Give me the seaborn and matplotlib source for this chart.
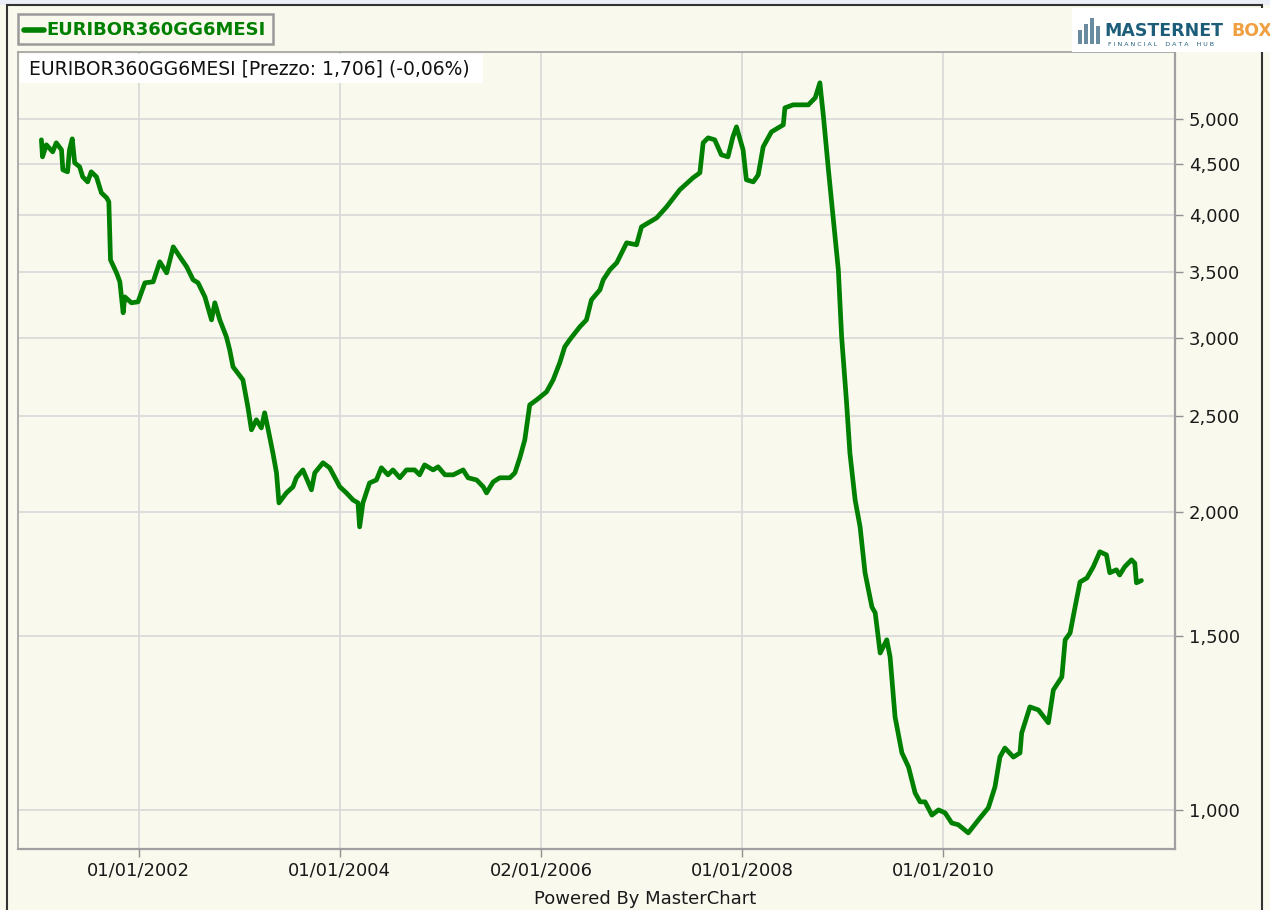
import matplotlib
matplotlib.use("Agg")
import matplotlib.pyplot as plt
import matplotlib.dates as mdates
from matplotlib.patches import Rectangle
from matplotlib.lines import Line2D
from matplotlib.ticker import FixedLocator, FuncFormatter, NullLocator
import pandas as pd
import seaborn as sns

# EURIBOR 360gg 6 mesi
dates = [
    "2001-01-12", "2001-01-16", "2001-01-30", "2001-02-22", "2001-03-07", "2001-03-26",
    "2001-03-31", "2001-04-17", "2001-04-24", "2001-05-04", "2001-05-13", "2001-05-31",
    "2001-06-11", "2001-06-29", "2001-07-12", "2001-07-31", "2001-08-18", "2001-09-06",
    "2001-09-14", "2001-09-20", "2001-10-12", "2001-10-24", "2001-11-05", "2001-11-11",
    "2001-12-05", "2001-12-29", "2002-01-23", "2002-02-22", "2002-03-18", "2002-04-12",
    "2002-05-06", "2002-05-30", "2002-06-24", "2002-07-17", "2002-08-04", "2002-08-29",
    "2002-09-22", "2002-10-04", "2002-10-22", "2002-11-15", "2002-11-27", "2002-12-09",
    "2003-01-14", "2003-02-01", "2003-02-14", "2003-03-04", "2003-03-22", "2003-04-03",
    "2003-04-16", "2003-05-03", "2003-05-16", "2003-05-25", "2003-06-21", "2003-07-15",
    "2003-07-27", "2003-08-20", "2003-09-20", "2003-10-02", "2003-11-01", "2003-11-25",
    "2004-01-01", "2004-01-25", "2004-02-18", "2004-03-07", "2004-03-13", "2004-03-25",
    "2004-04-18", "2004-05-13", "2004-05-31", "2004-06-24", "2004-07-12", "2004-08-06",
    "2004-08-30", "2004-09-29", "2004-10-17", "2004-11-04", "2004-12-05", "2004-12-23",
    "2005-01-17", "2005-02-16", "2005-03-24", "2005-04-11", "2005-05-12", "2005-06-05",
    "2005-06-17", "2005-07-11", "2005-08-04", "2005-09-10", "2005-09-28", "2005-10-16",
    "2005-11-03", "2005-11-21", "2005-12-16", "2006-01-21", "2006-02-14", "2006-03-10",
    "2006-03-28", "2006-04-15", "2006-05-22", "2006-06-15", "2006-07-03", "2006-08-03",
    "2006-08-15", "2006-09-08", "2006-10-03", "2006-11-08", "2006-12-14", "2007-01-01",
    "2007-02-25", "2007-04-02", "2007-05-20", "2007-07-07", "2007-08-01", "2007-08-13",
    "2007-08-31", "2007-09-24", "2007-10-18", "2007-11-11", "2007-11-29", "2007-12-12",
    "2008-01-05", "2008-01-17", "2008-02-11", "2008-02-29", "2008-03-18", "2008-04-17",
    "2008-05-30", "2008-06-05", "2008-07-05", "2008-08-29", "2008-09-23", "2008-10-10",
    "2008-10-23", "2008-11-10", "2008-11-28", "2008-12-16", "2008-12-28", "2009-01-15",
    "2009-01-27", "2009-02-15", "2009-03-05", "2009-03-23", "2009-04-17", "2009-04-29",
    "2009-05-17", "2009-06-10", "2009-06-22", "2009-07-10", "2009-08-04", "2009-08-28",
    "2009-09-21", "2009-10-09", "2009-10-27", "2009-11-21", "2009-12-15", "2010-01-08",
    "2010-02-01", "2010-02-25", "2010-04-02", "2010-05-09", "2010-06-14", "2010-07-08",
    "2010-07-26", "2010-08-13", "2010-09-13", "2010-10-07", "2010-10-13", "2010-11-12",
    "2010-12-13", "2011-01-18", "2011-02-05", "2011-03-08", "2011-03-20", "2011-04-07",
    "2011-04-25", "2011-05-13", "2011-06-07", "2011-06-30", "2011-07-24", "2011-08-17",
    "2011-08-29", "2011-09-22", "2011-10-04", "2011-10-22", "2011-11-16", "2011-11-28",
    "2011-12-04", "2011-12-22",
]
values = [
    4.760, 4.575, 4.705, 4.629, 4.727, 4.650,
    4.439, 4.418, 4.650, 4.771, 4.512, 4.470,
    4.367, 4.316, 4.418, 4.367, 4.207, 4.159,
    4.120, 3.599, 3.492, 3.420, 3.182, 3.302,
    3.257, 3.264, 3.412, 3.420, 3.583, 3.492,
    3.710, 3.625, 3.541, 3.436, 3.412, 3.302,
    3.130, 3.257, 3.130, 3.009, 2.919, 2.806,
    2.722, 2.556, 2.423, 2.480, 2.434, 2.521,
    2.423, 2.296, 2.192, 2.044, 2.092, 2.122,
    2.167, 2.207, 2.107, 2.192, 2.244, 2.218,
    2.122, 2.092, 2.058, 2.044, 1.933, 2.044,
    2.141, 2.156, 2.218, 2.182, 2.207, 2.167,
    2.207, 2.207, 2.182, 2.233, 2.207, 2.223,
    2.182, 2.182, 2.207, 2.167, 2.156, 2.122,
    2.092, 2.146, 2.167, 2.167, 2.192, 2.270,
    2.367, 2.568, 2.598, 2.647, 2.722, 2.832,
    2.939, 2.988, 3.080, 3.130, 3.279, 3.357,
    3.436, 3.517, 3.575, 3.745, 3.728, 3.887,
    3.969, 4.072, 4.237, 4.357, 4.408, 4.727,
    4.782, 4.760, 4.597, 4.575, 4.793, 4.906,
    4.650, 4.337, 4.316, 4.387, 4.683, 4.849,
    4.929, 5.128, 5.164, 5.164, 5.249, 5.436,
    5.022, 4.439, 3.951, 3.517, 3.009, 2.580,
    2.296, 2.058, 1.933, 1.737, 1.604, 1.582,
    1.441, 1.486, 1.428, 1.242, 1.142, 1.105,
    1.040, 1.019, 1.019, 0.988, 1.000, 0.993,
    0.970, 0.966, 0.948, 0.977, 1.005, 1.055,
    1.131, 1.155, 1.131, 1.142, 1.196, 1.271,
    1.262, 1.225, 1.322, 1.363, 1.486, 1.510,
    1.604, 1.700, 1.716, 1.761, 1.824, 1.811,
    1.737, 1.749, 1.728, 1.761, 1.790, 1.776,
    1.697, 1.706,
]

y_ticks = [1.0, 1.5, 2.0, 2.5, 3.0, 3.5, 4.0, 4.5, 5.0]
x_ticks = ["2002-01-01", "2004-01-01", "2006-01-02", "2008-01-01", "2010-01-01"]
series_name = "EURIBOR360GG6MESI"
header = "EURIBOR360GG6MESI [Prezzo: 1,706] (-0,06%)"

bg = "#f9f9ee"
green = "#008000"

df = pd.DataFrame({"date": pd.to_datetime(dates), "value": values})

sns.set_style("white")
plt.rcParams["font.family"] = ["DejaVu Sans"]

W, H = 1270, 910
fig = plt.figure(figsize=(W / 100, H / 100), dpi=100, facecolor=bg)

def fx(px):
    return px / W

def fy(py):
    return 1 - py / H

# outer frame and top strip
fig.patches.append(Rectangle((0, fy(5)), 1, 5 / H, transform=fig.transFigure,
                             facecolor="#eceff7", edgecolor="none", zorder=0))
fig.patches.append(Rectangle((fx(7), -0.01), fx(1262) - fx(7), fy(5) + 0.01,
                             transform=fig.transFigure, facecolor="none",
                             edgecolor="#333333", linewidth=1.5, zorder=1))

ax = fig.add_axes([fx(18), fy(849), fx(1175) - fx(18), (849 - 52) / H])
ax.set_facecolor(bg)

sns.lineplot(data=df, x="date", y="value", ax=ax, color=green, linewidth=3.4,
             estimator=None, sort=True, solid_joinstyle="round", solid_capstyle="round")

ax.set_yscale("log")
ax.set_ylim(0.913, 5.84)
ax.set_xlim(pd.Timestamp("2000-10-19"), pd.Timestamp("2012-04-22"))

ax.yaxis.set_major_locator(FixedLocator(y_ticks))
ax.yaxis.set_minor_locator(NullLocator())
ax.yaxis.set_major_formatter(FuncFormatter(lambda v, p: f"{v:.3f}".replace(".", ",")))
ax.yaxis.tick_right()

ax.xaxis.set_major_locator(FixedLocator(mdates.date2num(pd.to_datetime(x_ticks))))
ax.xaxis.set_major_formatter(mdates.DateFormatter("%d/%m/%Y"))

ax.grid(True, color="#dadada", linewidth=1.3)
ax.set_axisbelow(True)
ax.tick_params(axis="both", which="major", direction="out", length=6, width=1,
               color="#909090", labelsize=13, labelcolor="#1a1a1a", pad=4)
ax.tick_params(axis="y", right=True, left=False, pad=4)
ax.tick_params(axis="x", bottom=True, pad=3)
ax.set_xlabel("")
ax.set_ylabel("")
for side, sp in ax.spines.items():
    sp.set_visible(True)
    sp.set_color("#a0a0a0")
    sp.set_linewidth(1.6 if side in ("bottom", "right") else 1.2)

# header box inside plot
fig.patches.append(Rectangle((fx(20), fy(83)), fx(483) - fx(20), 29 / H,
                             transform=fig.transFigure, facecolor="white",
                             edgecolor="none", zorder=5))
fig.text(fx(29), fy(69), header, fontsize=13.5, color="#111111", va="center",
         ha="left", zorder=6)

# legend box
fig.patches.append(Rectangle((fx(18), fy(44)), fx(273) - fx(18), 30 / H,
                             transform=fig.transFigure, facecolor=bg,
                             edgecolor="#9a9a9a", linewidth=1.8, zorder=5))
fig.lines.append(Line2D([fx(24), fx(44)], [fy(30), fy(30)], transform=fig.transFigure,
                        color=green, linewidth=4, zorder=6))
fig.text(fx(46), fy(30), series_name, fontsize=13, fontweight="bold", color=green,
         va="center", ha="left", zorder=6)

# logo
fig.patches.append(Rectangle((fx(1072), fy(52)), fx(1270) - fx(1072), 44 / H,
                             transform=fig.transFigure, facecolor="white",
                             edgecolor="none", zorder=5))
fig.text(fx(1104), fy(31), "MASTERNET", fontsize=12.5, fontweight="bold",
         color="#1d5d7a", va="center", ha="left", zorder=6)
fig.text(fx(1231), fy(31), "BOX", fontsize=12.5, fontweight="bold",
         color="#f0a040", va="center", ha="left", zorder=6)
fig.text(fx(1108), fy(45), "F I N A N C I A L    D A T A    H U B", fontsize=4.5,
         color="#1d5d7a", va="center", ha="left", zorder=6)
for i, h in enumerate([14, 20, 26, 18]):
    fig.patches.append(Rectangle((fx(1078 + i * 6), fy(44)), 4 / W, h / H,
                                 transform=fig.transFigure, facecolor="#6a8aa0",
                                 edgecolor="none", zorder=6))

fig.text(fx(645), fy(899), "Powered By MasterChart", fontsize=13, color="#1a1a1a",
         ha="center", va="center")

fig.savefig("out.png", dpi=100, facecolor=bg)
